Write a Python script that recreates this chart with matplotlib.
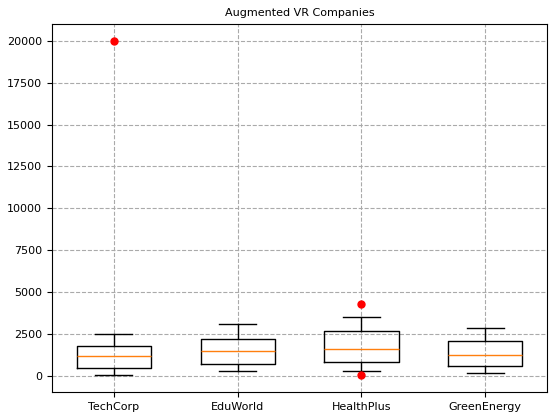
import matplotlib.pyplot as plt

companies = ['TechCorp', 'EduWorld', 'HealthPlus', 'GreenEnergy']
whisker_low = [50, 300, 300, 200]
q1 = [500, 700, 850, 600]
median = [1200, 1500, 1600, 1250]
q3 = [1800, 2200, 2700, 2100]
whisker_high = [2500, 3100, 3500, 2850]
outliers = [[20000], [], [4300, 50], []]

stats = []
for i, name in enumerate(companies):
    stats.append({'label': name, 'whislo': whisker_low[i], 'q1': q1[i], 'med': median[i],
                  'q3': q3[i], 'whishi': whisker_high[i], 'fliers': outliers[i]})

fig, ax = plt.subplots(figsize=(5.54, 4.18), dpi=100)
ax.bxp(stats, widths=0.6,
       flierprops=dict(marker='o', markerfacecolor='red', markeredgecolor='red', markersize=5),
       medianprops=dict(color='#ff7f0e', linewidth=1))
ax.set_title('Augmented VR Companies', fontsize=8)
ax.grid(True, linestyle='--', color='#aaaaaa')
ax.tick_params(labelsize=8)
fig.subplots_adjust(left=52 / 554, right=547 / 554, top=1 - 24 / 418, bottom=1 - 392 / 418)
fig.savefig('out.png')
